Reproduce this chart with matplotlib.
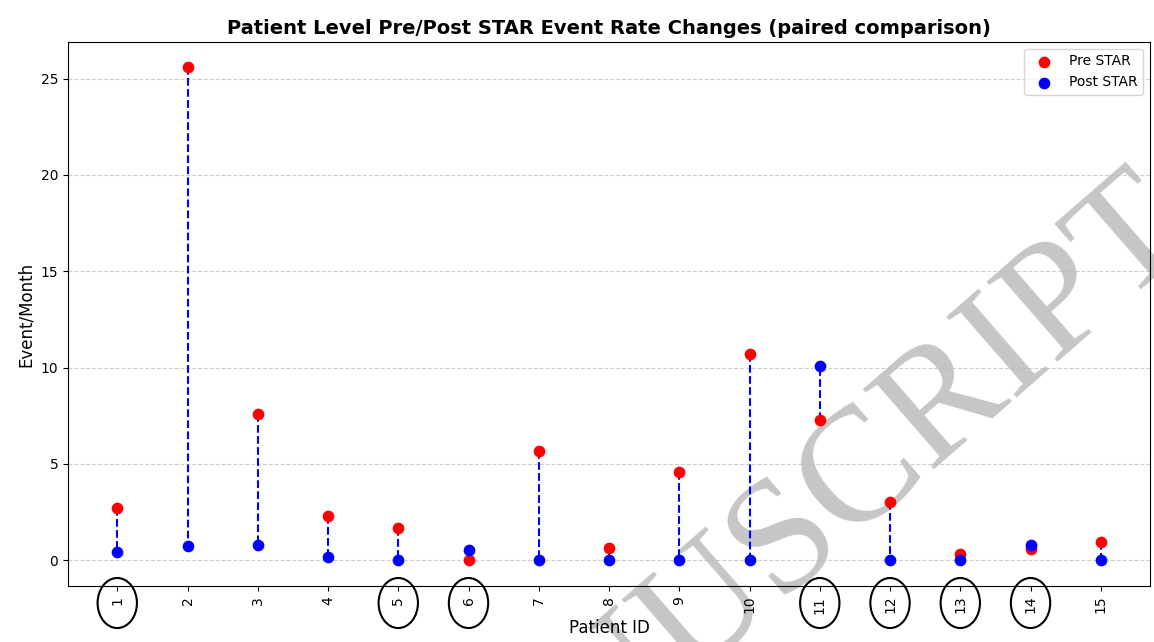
import matplotlib
matplotlib.use("Agg")
import matplotlib.pyplot as plt
from matplotlib.patches import Ellipse

patients = list(range(1, 16))
pre_star = [2.7, 25.6, 7.6, 2.3, 1.65, 0.0, 5.65, 0.65, 4.6, 10.7, 7.3, 3.0, 0.3, 0.6, 0.95]
post_star = [0.4, 0.75, 0.8, 0.18, 0.0, 0.55, 0.0, 0.0, 0.0, 0.0, 10.1, 0.0, 0.02, 0.8, 0.0]
circled = [1, 5, 6, 11, 12, 13, 14]

fig = plt.figure(figsize=(11.54, 6.42), dpi=100)
ax = fig.add_axes([0.059, 0.087, 0.9375, 0.8476])
ax.set_facecolor("none")
ax.set_zorder(1)

for p, a, b in zip(patients, pre_star, post_star):
    ax.plot([p, p], [a, b], color="blue", linestyle="--", linewidth=1.5, zorder=2)

ax.scatter(patients, pre_star, color="red", s=55, label="Pre STAR", zorder=3)
ax.scatter(patients, post_star, color="blue", s=55, label="Post STAR", zorder=3)

ax.set_xlim(0.3, 15.7)
ax.set_ylim(-1.35, 26.9)
ax.set_xticks(patients)
ax.set_xticklabels([str(p) for p in patients], rotation=90, fontsize=10)
ax.set_yticks([0, 5, 10, 15, 20, 25])
ax.tick_params(axis="y", labelsize=10)
ax.yaxis.grid(True, linestyle="--", color="#bbbbbb", alpha=0.7)
ax.set_axisbelow(True)

ax.set_xlabel("Patient ID", fontsize=12)
ax.set_ylabel("Event/Month", fontsize=12)
ax.set_title("Patient Level Pre/Post STAR Event Rate Changes (paired comparison)",
             fontsize=14, fontweight="bold")
ax.legend(loc="upper right", fontsize=10)

for p in circled:
    e = Ellipse((p, -0.031), width=0.56, height=0.092, transform=ax.get_xaxis_transform(),
                fill=False, edgecolor="black", linewidth=1.5, clip_on=False)
    ax.add_patch(e)

fig.text(1198 / 1154, 1 - 240 / 642, "ACCEPTED MANUSCRIPT", fontsize=118,
         family="Liberation Serif", color="#c6c6c6", rotation=41,
         rotation_mode="anchor", ha="right", va="baseline", zorder=0)

fig.savefig("out.png", dpi=100)
